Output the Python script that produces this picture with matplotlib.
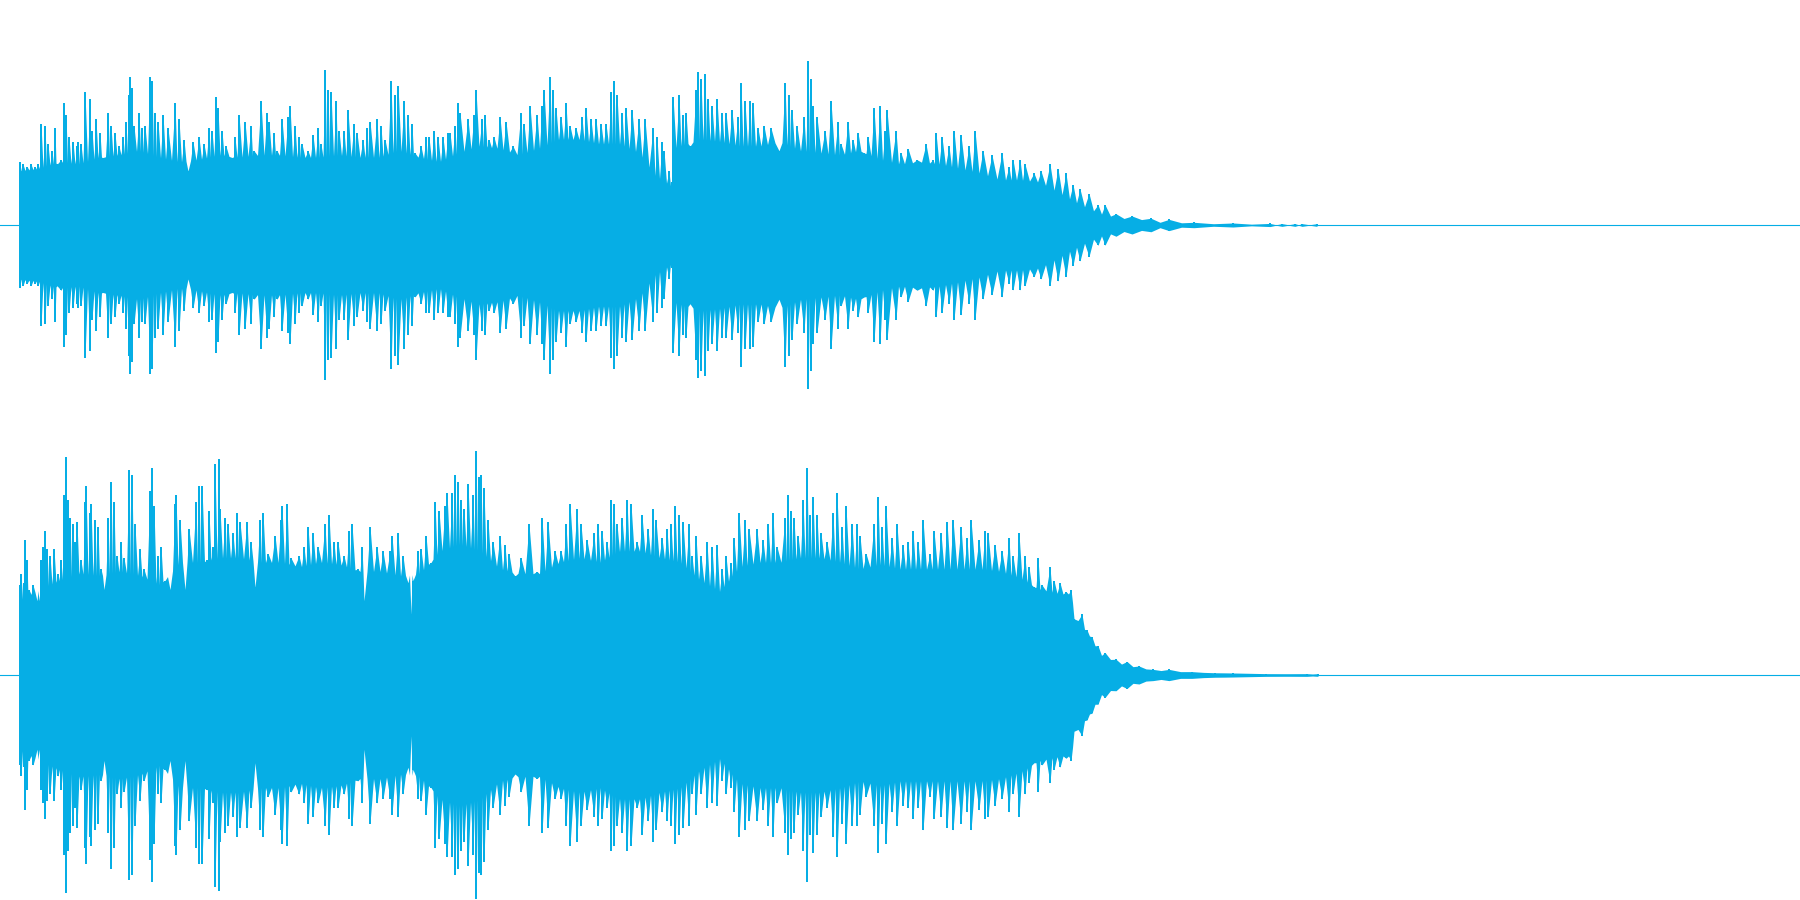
#!/usr/bin/env python3
# -*- coding: utf-8 -*-
import matplotlib
matplotlib.use('Agg')
import matplotlib.pyplot as plt
import numpy as np

# %% Waveform colour and time span (s)
wave_col = '#06aee5'
t_span = [0, 18]

# %% Channel 1: spikes, amplitude is symmetric about zero
ch1_t = [0.195, 0.23, 0.27, 0.31, 0.35, 0.38, 0.41, 0.45, 0.48, 0.52,
         0.55, 0.57, 0.61, 0.64, 0.66, 0.69, 0.73, 0.77, 0.78, 0.81,
         0.85, 0.90, 0.92, 0.96, 1.00, 1.03, 1.08, 1.11, 1.15, 1.19,
         1.23, 1.26, 1.29, 1.30, 1.32, 1.34, 1.39, 1.42, 1.45, 1.50,
         1.52, 1.55, 1.58, 1.63, 1.68, 1.75, 1.79, 1.84, 1.88, 1.93,
         1.99, 2.04, 2.09, 2.12, 2.16, 2.18, 2.22, 2.26, 2.32, 2.35,
         2.39, 2.45, 2.51, 2.54, 2.61, 2.67, 2.69, 2.74, 2.77, 2.82,
         2.88, 2.90, 2.95, 2.99, 3.02, 3.08, 3.13, 3.18, 3.21, 3.25,
         3.28, 3.31, 3.36, 3.39, 3.44, 3.48, 3.54, 3.57, 3.63, 3.67,
         3.70, 3.77, 3.81, 3.85, 3.91, 3.95, 3.98, 4.04, 4.08, 4.12,
         4.15, 4.21, 4.26, 4.29, 4.34, 4.38, 4.43, 4.48, 4.50, 4.55,
         4.58, 4.60, 4.68, 4.74, 4.76, 4.82, 4.85, 4.89, 4.94, 5.00,
         5.06, 5.13, 5.21, 5.24, 5.30, 5.37, 5.42, 5.44, 5.50, 5.53,
         5.56, 5.61, 5.66, 5.70, 5.76, 5.82, 5.86, 5.91, 5.96, 6.01,
         6.06, 6.11, 6.14, 6.17, 6.22, 6.26, 6.32, 6.39, 6.45, 6.53,
         6.57, 6.62, 6.64, 6.69, 6.72, 6.73, 6.79, 6.83, 6.86, 6.90,
         6.96, 6.98, 7.01, 7.05, 7.08, 7.12, 7.17, 7.22, 7.26, 7.32,
         7.38, 7.41, 7.45, 7.50, 7.53, 7.58, 7.64, 7.71, 7.79, 7.85,
         7.89, 7.92, 7.97, 8.04, 8.08, 8.11, 8.13, 8.17, 8.25, 8.31,
         8.38, 8.41, 8.48, 8.53, 8.58, 8.64, 8.68, 8.74, 8.80, 8.85,
         8.87, 8.96, 9.01, 9.08, 9.17, 9.26, 9.33, 9.36, 9.42, 9.49,
         9.54, 9.61, 9.69, 9.75, 9.83, 9.92, 10.02, 10.09, 10.13, 10.20,
         10.25, 10.34, 10.41, 10.50, 10.58, 10.66, 10.73, 10.80, 10.89, 10.98,
         11.05, 11.16, 11.32, 11.51, 11.69, 11.94, 12.33, 12.70, 12.82, 12.95,
         13.02, 13.17]
ch1_peak = [.28, .27, .26, .27, .26, .27, .45, .44, .36, .33,
            .43, .27, .29, .54, .49, .39, .37, .35, .37, .36,
            .59, .56, .42, .47, .41, .30, .50, .44, .41, .35,
            .39, .46, .58, .66, .61, .44, .50, .43, .44, .66,
            .64, .50, .46, .49, .43, .54, .47, .38, .24, .37,
            .39, .36, .43, .42, .57, .52, .42, .35, .30, .39,
            .49, .46, .44, .33, .55, .50, .46, .41, .33, .47,
            .48, .53, .44, .39, .36, .33, .40, .43, .36, .69,
            .60, .59, .55, .42, .42, .51, .45, .41, .38, .43,
            .46, .47, .44, .38, .64, .58, .62, .55, .49, .45,
            .32, .35, .39, .39, .42, .39, .39, .41, .41, .44,
            .54, .50, .47, .49, .60, .47, .49, .38, .39, .48,
            .46, .35, .50, .45, .53, .49, .53, .60, .66, .60,
            .52, .48, .54, .44, .43, .48, .52, .47, .47, .45,
            .45, .59, .64, .58, .50, .52, .51, .47, .47, .43,
            .39, .37, .33, .24, .19, .57, .58, .49, .50, .35,
            .60, .68, .65, .67, .56, .53, .56, .50, .50, .51,
            .48, .63, .55, .55, .54, .43, .44, .43, .33, .63,
            .58, .51, .44, .48, .73, .65, .53, .48, .42, .55,
            .46, .36, .46, .38, .41, .32, .39, .52, .53, .42,
            .51, .42, .32, .34, .29, .36, .29, .41, .39, .35,
            .42, .40, .35, .42, .33, .31, .32, .26, .29, .29,
            .27, .23, .24, .27, .25, .23, .18, .16, .14, .09,
            .09, .05, .04, .03, .025, .012, .009, .007, .006, .006,
            .006, .006]

# Channel 1: level of the solid body between spikes
ch1_body_t = [0.195, 0.39, 0.59, 0.79, 0.99, 1.19, 1.39, 1.59, 1.79, 1.99,
              2.19, 2.39, 2.59, 2.79, 2.99, 3.19, 3.39, 3.59, 3.79, 3.99,
              4.19, 4.39, 4.59, 4.79, 4.99, 5.19, 5.39, 5.59, 5.79, 5.99,
              6.19, 6.39, 6.55, 6.72, 6.73, 6.80, 7.00, 7.20, 7.40, 7.60,
              7.80, 8.00, 8.20, 8.40, 8.60, 8.80, 9.00, 9.20, 9.40, 9.60,
              9.80, 10.00, 10.20, 10.40, 10.60, 10.80, 11.00, 11.20, 11.40, 11.60,
              11.80, 12.00, 12.20, 12.40, 12.70, 12.75]
ch1_body = [.24, .25, .28, .27, .30, .31, .33, .30, .28, .29,
            .31, .30, .31, .31, .30, .30, .31, .30, .30, .33,
            .30, .28, .32, .35, .34, .31, .34, .38, .38, .36,
            .36, .32, .22, .17, .34, .35, .38, .37, .35, .35,
            .37, .33, .32, .31, .33, .29, .27, .28, .27, .25,
            .23, .20, .20, .19, .14, .09, .05, .03, .025, .012,
            .010, .007, .005, .004, .003, .001]

# %% Channel 2: spikes
ch2_t = [0.195, 0.21, 0.24, 0.25, 0.27, 0.29, 0.33, 0.37, 0.39, 0.41,
         0.43, 0.45, 0.47, 0.50, 0.54, 0.58, 0.61, 0.64, 0.66, 0.68,
         0.70, 0.73, 0.75, 0.77, 0.81, 0.85, 0.86, 0.90, 0.91, 0.95,
         0.98, 1.01, 1.04, 1.08, 1.11, 1.14, 1.17, 1.21, 1.24, 1.29,
         1.32, 1.35, 1.40, 1.44, 1.50, 1.52, 1.54, 1.58, 1.61, 1.65,
         1.70, 1.75, 1.76, 1.80, 1.85, 1.89, 1.96, 1.99, 2.02, 2.07,
         2.09, 2.13, 2.15, 2.19, 2.20, 2.25, 2.28, 2.33, 2.37, 2.40,
         2.47, 2.51, 2.55, 2.60, 2.63, 2.68, 2.75, 2.81, 2.82, 2.87,
         2.91, 2.99, 3.04, 3.08, 3.13, 3.18, 3.25, 3.29, 3.34, 3.38,
         3.44, 3.49, 3.52, 3.58, 3.62, 3.64, 3.70, 3.77, 3.83, 3.90,
         3.92, 3.98, 4.03, 4.08, 4.11, 4.13, 4.18, 4.21, 4.26, 4.31,
         4.35, 4.39, 4.45, 4.47, 4.52, 4.55, 4.58, 4.61, 4.64, 4.68,
         4.73, 4.76, 4.79, 4.81, 4.84, 4.88, 4.93, 5.00, 5.05, 5.09,
         5.15, 5.21, 5.29, 5.37, 5.42, 5.48, 5.55, 5.61, 5.66, 5.70,
         5.77, 5.81, 5.87, 5.94, 5.98, 6.02, 6.07, 6.11, 6.14, 6.17,
         6.22, 6.27, 6.31, 6.37, 6.42, 6.48, 6.53, 6.56, 6.62, 6.67,
         6.71, 6.75, 6.79, 6.83, 6.89, 6.92, 6.96, 7.01, 7.07, 7.12,
         7.17, 7.22, 7.26, 7.31, 7.34, 7.39, 7.45, 7.49, 7.57, 7.63,
         7.68, 7.73, 7.77, 7.85, 7.88, 7.91, 7.94, 7.98, 8.03, 8.07,
         8.10, 8.13, 8.17, 8.21, 8.27, 8.33, 8.37, 8.42, 8.46, 8.52,
         8.57, 8.60, 8.66, 8.74, 8.78, 8.82, 8.86, 8.92, 8.97, 9.03,
         9.08, 9.13, 9.18, 9.23, 9.30, 9.34, 9.41, 9.47, 9.53, 9.61,
         9.67, 9.71, 9.79, 9.85, 9.88, 9.95, 10.02, 10.09, 10.13, 10.19,
         10.25, 10.29, 10.34, 10.38, 10.42, 10.50, 10.54, 10.60, 10.66, 10.71,
         10.74, 10.82, 10.87, 10.92, 10.98, 11.05, 11.16, 11.27, 11.39, 11.53,
         11.69, 11.92, 12.15, 12.33, 12.66, 13.07, 13.18]
ch2_peak = [.40, .45, .41, .60, .51, .38, .40, .33, .33, .51,
            .57, .64, .56, .53, .56, .45, .51, .80, .97, .78,
            .70, .67, .59, .68, .51, .77, .84, .72, .76, .69,
            .66, .47, .38, .70, .86, .77, .53, .59, .52, .91,
            .89, .67, .56, .47, .82, .92, .75, .53, .57, .42,
            .38, .76, .80, .69, .38, .65, .77, .84, .84, .51,
            .73, .57, .94, .96, .74, .70, .67, .63, .72, .68,
            .68, .59, .39, .69, .72, .54, .62, .69, .75, .76,
            .52, .53, .57, .66, .63, .57, .67, .71, .59, .59,
            .53, .64, .67, .47, .57, .33, .66, .57, .55, .55,
            .62, .63, .53, .41, .27, .42, .55, .56, .62, .50,
            .77, .73, .75, .81, .81, .89, .86, .78, .74, .85,
            .80, .995, .88, .89, .83, .69, .59, .62, .58, .54,
            .44, .52, .67, .46, .70, .68, .55, .55, .67, .76,
            .74, .67, .60, .63, .67, .64, .59, .78, .76, .67,
            .70, .78, .76, .59, .71, .65, .74, .69, .61, .65,
            .67, .75, .71, .68, .67, .53, .62, .53, .59, .57,
            .58, .47, .53, .50, .61, .72, .69, .65, .65, .60,
            .67, .72, .57, .70, .80, .73, .70, .62, .78, .92,
            .71, .79, .71, .63, .59, .72, .81, .66, .75, .67,
            .67, .62, .54, .67, .79, .66, .75, .61, .67, .58,
            .59, .64, .59, .69, .54, .64, .63, .68, .69, .66,
            .61, .69, .60, .64, .63, .58, .55, .61, .53, .63,
            .53, .48, .39, .52, .40, .48, .42, .41, .37, .38,
            .25, .27, .20, .17, .13, .10, .07, .06, .04, .025,
            .025, .015, .01, .009, .006, .006, .006]

# Channel 2: level of the solid body between spikes
ch2_body_t = [0.195, 0.40, 0.60, 0.80, 1.00, 1.20, 1.40, 1.60, 1.80, 2.00,
              2.20, 2.40, 2.60, 2.80, 3.00, 3.20, 3.40, 3.60, 3.80, 4.00,
              4.20, 4.40, 4.60, 4.80, 5.00, 5.20, 5.40, 5.60, 5.80, 6.00,
              6.20, 6.40, 6.60, 6.80, 7.00, 7.20, 7.40, 7.60, 7.80, 8.00,
              8.20, 8.40, 8.60, 8.80, 9.00, 9.20, 9.40, 9.60, 9.80, 10.00,
              10.20, 10.40, 10.60, 10.71, 10.75, 10.90, 11.00, 11.20, 11.40, 11.60,
              11.80, 12.00, 12.40, 12.80, 13.20, 13.25]
ch2_body = [.33, .38, .42, .45, .44, .46, .44, .40, .50, .50,
            .52, .52, .50, .50, .48, .50, .49, .46, .46, .44,
            .45, .55, .58, .55, .47, .45, .45, .50, .52, .50,
            .55, .55, .52, .50, .42, .37, .48, .50, .50, .52,
            .52, .50, .47, .49, .47, .47, .47, .47, .47, .46,
            .43, .38, .36, .36, .26, .17, .09, .05, .03, .02,
            .015, .012, .008, .006, .004, .001]

channels = [(ch1_t, ch1_peak, ch1_body_t, ch1_body),
            (ch2_t, ch2_peak, ch2_body_t, ch2_body)]

# %% Plot, one full-bleed axes per channel
fig = plt.figure(figsize=(18, 9), dpi=100)

for ii, (tt, peak, body_t, body) in enumerate(channels):
    ax = fig.add_axes([0, 0.5 - 0.5 * ii, 1, 0.5])
    tt = np.array(tt)
    peak = np.array(peak)
    body_t = np.array(body_t)
    body = np.array(body)

    # outline runs spike, body level, spike, ...
    mids = (tt[:-1] + tt[1:]) / 2
    out_t = np.empty(tt.size + mids.size)
    out_y = np.empty(tt.size + mids.size)
    out_t[0::2] = tt
    out_t[1::2] = mids
    out_y[0::2] = peak
    out_y[1::2] = np.interp(mids, body_t, body)

    ax.fill_between(out_t, -out_y, out_y, color=wave_col, lw=0)
    ax.vlines(tt, -peak, peak, color=wave_col, lw=1.44, antialiased=False)
    ax.axhline(0, color=wave_col, lw=0.8)

    ax.set_xlim(t_span)
    ax.set_ylim(-1, 1)
    ax.axis('off')

fig.savefig('out.png', dpi=100, facecolor='white')
plt.close()
